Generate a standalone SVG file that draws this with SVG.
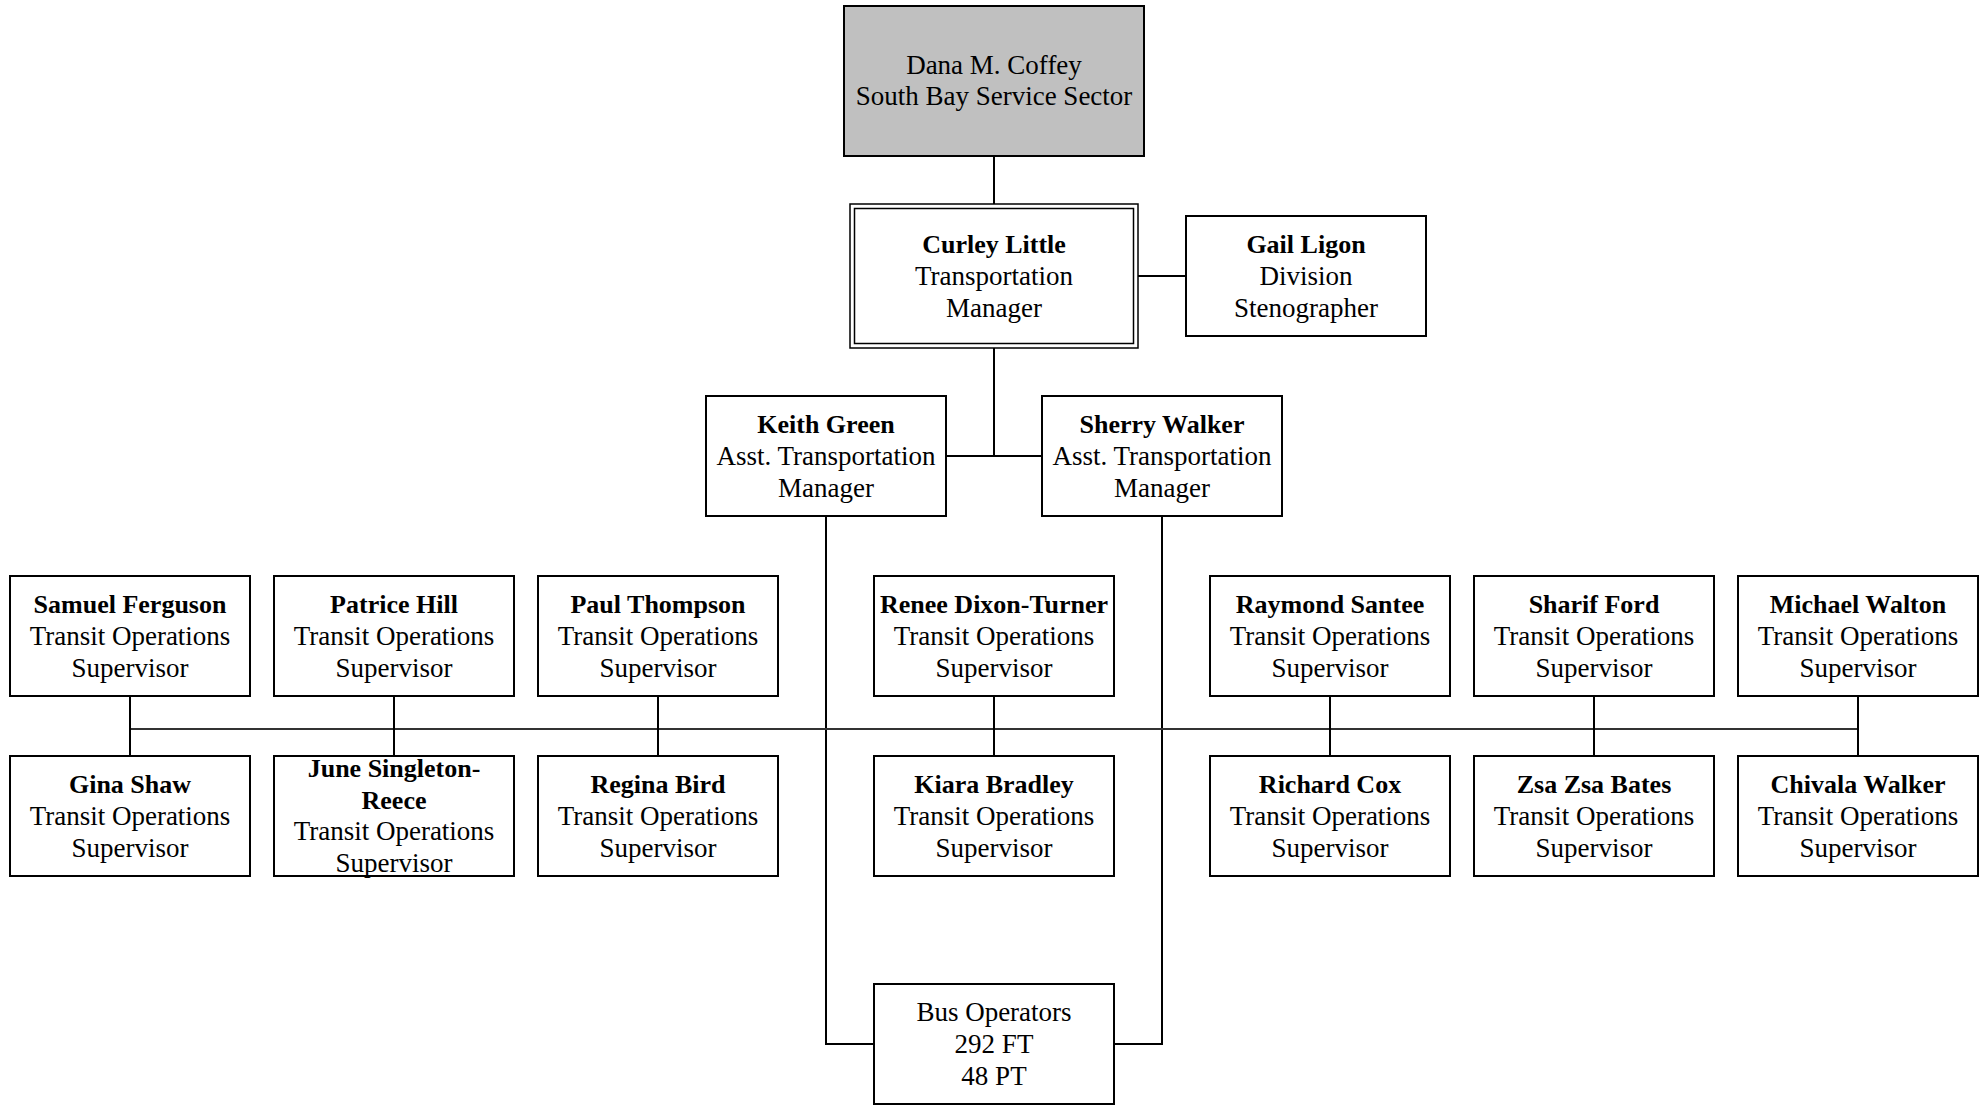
<svg xmlns="http://www.w3.org/2000/svg" width="1981" height="1105" viewBox="0 0 1981 1105">
<style>
.box{fill:#fff;stroke:#000;stroke-width:2}
.thin{fill:none;stroke:#000;stroke-width:1.5}
.exec{fill:#c0c0c0;stroke:#000;stroke-width:2}
text{font-family:"Liberation Serif","Times New Roman",serif;font-size:27px;fill:#000;text-anchor:middle}
.b{font-weight:bold;font-size:26px}
.conn{fill:none;stroke:#000;stroke-width:2}
.bus{fill:none;stroke:#333;stroke-width:2}
</style>
<rect width="1981" height="1105" fill="#fff"/>
<g id="connectors">
<path class="conn" d="M994 156V204"/>
<path class="conn" d="M1138 276H1186"/>
<path class="conn" d="M994 348V456M946 456H1042"/>
<path class="conn" d="M826 516V1044H874"/>
<path class="conn" d="M1162 516V1044H1114"/>
<path class="bus" d="M130 729H1858"/>
<path class="conn" d="M130 696V756M394 696V756M658 696V756M994 696V756M1330 696V756M1594 696V756M1858 696V756"/>
</g>
<g id="dana">
<rect class="exec" x="844" y="6" width="300" height="150"/>
<text x="994" y="74">Dana M. Coffey</text>
<text x="994" y="105">South Bay Service Sector</text>
</g>
<g id="curley">
<rect class="thin" x="850" y="204" width="288" height="144" fill="#fff"/>
<rect class="thin" x="854.5" y="208.5" width="279" height="135"/>
<text class="b" x="994" y="253">Curley Little</text>
<text x="994" y="285">Transportation</text>
<text x="994" y="316.5">Manager</text>
</g>
<g id="gail">
<rect class="box" x="1186" y="216" width="240" height="120"/>
<text class="b" x="1306" y="253">Gail Ligon</text>
<text x="1306" y="285">Division</text>
<text x="1306" y="316.5">Stenographer</text>
</g>
<g id="keith">
<rect class="box" x="706" y="396" width="240" height="120"/>
<text class="b" x="826" y="433">Keith Green</text>
<text x="826" y="465">Asst. Transportation</text>
<text x="826" y="496.5">Manager</text>
</g>
<g id="sherry">
<rect class="box" x="1042" y="396" width="240" height="120"/>
<text class="b" x="1162" y="433">Sherry Walker</text>
<text x="1162" y="465">Asst. Transportation</text>
<text x="1162" y="496.5">Manager</text>
</g>
<g id="samuel">
<rect class="box" x="10" y="576" width="240" height="120"/>
<text class="b" x="130" y="613">Samuel Ferguson</text>
<text x="130" y="645">Transit Operations</text>
<text x="130" y="676.5">Supervisor</text>
</g>
<g id="patrice">
<rect class="box" x="274" y="576" width="240" height="120"/>
<text class="b" x="394" y="613">Patrice Hill</text>
<text x="394" y="645">Transit Operations</text>
<text x="394" y="676.5">Supervisor</text>
</g>
<g id="paul">
<rect class="box" x="538" y="576" width="240" height="120"/>
<text class="b" x="658" y="613">Paul Thompson</text>
<text x="658" y="645">Transit Operations</text>
<text x="658" y="676.5">Supervisor</text>
</g>
<g id="renee">
<rect class="box" x="874" y="576" width="240" height="120"/>
<text class="b" x="994" y="613">Renee Dixon-Turner</text>
<text x="994" y="645">Transit Operations</text>
<text x="994" y="676.5">Supervisor</text>
</g>
<g id="raymond">
<rect class="box" x="1210" y="576" width="240" height="120"/>
<text class="b" x="1330" y="613">Raymond Santee</text>
<text x="1330" y="645">Transit Operations</text>
<text x="1330" y="676.5">Supervisor</text>
</g>
<g id="sharif">
<rect class="box" x="1474" y="576" width="240" height="120"/>
<text class="b" x="1594" y="613">Sharif Ford</text>
<text x="1594" y="645">Transit Operations</text>
<text x="1594" y="676.5">Supervisor</text>
</g>
<g id="michael">
<rect class="box" x="1738" y="576" width="240" height="120"/>
<text class="b" x="1858" y="613">Michael Walton</text>
<text x="1858" y="645">Transit Operations</text>
<text x="1858" y="676.5">Supervisor</text>
</g>
<g id="gina">
<rect class="box" x="10" y="756" width="240" height="120"/>
<text class="b" x="130" y="793">Gina Shaw</text>
<text x="130" y="825">Transit Operations</text>
<text x="130" y="856.5">Supervisor</text>
</g>
<g id="june">
<rect class="box" x="274" y="756" width="240" height="120"/>
<text class="b" x="394" y="777">June Singleton-</text>
<text class="b" x="394" y="808.5">Reece</text>
<text x="394" y="840">Transit Operations</text>
<text x="394" y="872">Supervisor</text>
</g>
<g id="regina">
<rect class="box" x="538" y="756" width="240" height="120"/>
<text class="b" x="658" y="793">Regina Bird</text>
<text x="658" y="825">Transit Operations</text>
<text x="658" y="856.5">Supervisor</text>
</g>
<g id="kiara">
<rect class="box" x="874" y="756" width="240" height="120"/>
<text class="b" x="994" y="793">Kiara Bradley</text>
<text x="994" y="825">Transit Operations</text>
<text x="994" y="856.5">Supervisor</text>
</g>
<g id="richard">
<rect class="box" x="1210" y="756" width="240" height="120"/>
<text class="b" x="1330" y="793">Richard Cox</text>
<text x="1330" y="825">Transit Operations</text>
<text x="1330" y="856.5">Supervisor</text>
</g>
<g id="zsazsa">
<rect class="box" x="1474" y="756" width="240" height="120"/>
<text class="b" x="1594" y="793">Zsa Zsa Bates</text>
<text x="1594" y="825">Transit Operations</text>
<text x="1594" y="856.5">Supervisor</text>
</g>
<g id="chivala">
<rect class="box" x="1738" y="756" width="240" height="120"/>
<text class="b" x="1858" y="793">Chivala Walker</text>
<text x="1858" y="825">Transit Operations</text>
<text x="1858" y="856.5">Supervisor</text>
</g>
<g id="busops">
<rect class="box" x="874" y="984" width="240" height="120"/>
<text x="994" y="1021">Bus Operators</text>
<text x="994" y="1053">292 FT</text>
<text x="994" y="1084.5">48 PT</text>
</g>
</svg>
